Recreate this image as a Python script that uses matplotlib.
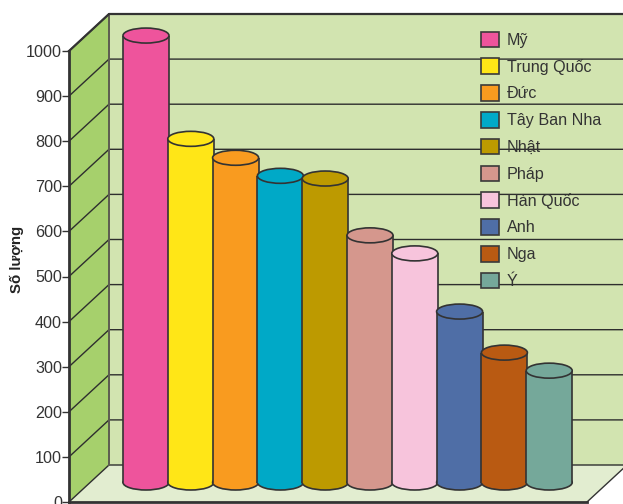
#!/usr/bin/env python3
"""Pseudo-3D cylinder bars: Số lượng by country."""
import numpy as np
import matplotlib
matplotlib.use("Agg")
import matplotlib.pyplot as plt
from matplotlib.patches import Ellipse, Patch

plt.rcParams["font.family"] = ["Liberation Sans", "DejaVu Sans"]

countries = ["Mỹ", "Trung Quốc", "Đức", "Tây Ban Nha", "Nhật",
             "Pháp", "Hàn Quốc", "Anh", "Nga", "Ý"]
values = [991, 762, 720, 680, 674, 548, 508, 379, 288, 248]
colors = ["#ee549c", "#ffe617", "#f99b1f", "#00a9c7", "#bd9a00",
          "#d5978d", "#f7c4dc", "#4f6ea6", "#b95a12", "#75a89a"]
y_ticks = list(range(0, 1001, 100))

INK = "#333333"
WALL_BACK = "#d2e4b0"
WALL_SIDE = "#a6d06c"
FLOOR = "#e2edd0"

# pixel layout of the front plane
W, H = 623, 504
X0, X1, Y0, Y1000 = 69, 587, 502, 51
X_FIRST, X_STEP = 146, 44.8
Y_SCALE = (Y0 - Y1000) / 1000  # px per unit

DX = 40 / X_STEP  # wall depth in data units
DY = 37 / Y_SCALE
BASE = 19.5 / Y_SCALE  # cylinders stand mid-floor
BAR_W = 46 / X_STEP
CAP_H = 15 / Y_SCALE

fig = plt.figure(figsize=(W / 100, H / 100), dpi=100)
ax = fig.add_axes((X0 / W, (H - Y0) / H, (X1 - X0) / W, (Y0 - Y1000) / H))
ax.set_xlim((X0 - X_FIRST) / X_STEP, (X1 - X_FIRST) / X_STEP)
ax.set_ylim(0, 1000)
ax.patch.set_alpha(0)
xl, xr = ax.get_xlim()

# walls and floor
ax.fill([xl + DX, xr + DX, xr + DX, xl + DX], [DY, DY, 1000 + DY, 1000 + DY],
        color=WALL_BACK, lw=0, clip_on=False, zorder=0.1)
ax.fill([xl, xl + DX, xl + DX, xl], [0, DY, 1000 + DY, 1000],
        color=WALL_SIDE, lw=0, clip_on=False, zorder=0.2)
ax.fill([xl, xr, xr + DX, xl + DX], [0, 0, DY, DY],
        color=FLOOR, lw=0, clip_on=False, zorder=0.2)

for v in y_ticks:
    ax.plot([xl, xl + DX, xr + DX], [v, v + DY, v + DY], color="#2e2e2e", lw=1.0,
            clip_on=False, zorder=0.5)
ax.plot([xl + DX, xl + DX], [DY, 1000 + DY], color="#5c5c50", lw=1.4, clip_on=False, zorder=0.6)
ax.plot([xl, xl + DX, xr + DX], [1000, 1000 + DY, 1000 + DY], color=INK, lw=1.6,
        clip_on=False, zorder=0.7)
ax.plot([xr, xr + DX], [0, DY], color=INK, lw=1.0, clip_on=False, zorder=0.7)

# cylinders, each one in front of the previous
for i, (v, c) in enumerate(zip(values, colors)):
    z = 2 + i
    ax.add_patch(Ellipse((i, BASE), BAR_W, CAP_H, fc=c, ec=INK, lw=1.2, clip_on=False, zorder=z))
    ax.bar(i, v, width=BAR_W, bottom=BASE, color=c, lw=0, zorder=z + 0.1, clip_on=False)
    ax.vlines([i - BAR_W / 2, i + BAR_W / 2], BASE, BASE + v, color=INK, lw=1.2, zorder=z + 0.2,
              clip_on=False)
    ax.add_patch(Ellipse((i, BASE + v), BAR_W, CAP_H, fc=c, ec=INK, lw=1.2, clip_on=False,
                         zorder=z + 0.3))

for side in ("top", "right"):
    ax.spines[side].set_visible(False)
ax.spines["left"].set_linewidth(2.0)
ax.spines["left"].set_color(INK)
ax.spines["bottom"].set_linewidth(2.0)
ax.spines["bottom"].set_color(INK)
ax.set_xticks([])
ax.set_yticks(y_ticks)
ax.tick_params(axis="y", length=5, width=1.0, color=INK, labelcolor=INK, labelsize=11.6, pad=0)
ax.set_ylabel("Số lượng", fontsize=10.8, fontweight="bold", color="#222222")
ax.yaxis.set_label_coords(-0.086, 0.537)

handles = [Patch(fc=c, ec="#3a3a3a", lw=1.2) for c in colors]
leg = ax.legend(handles, countries, loc="upper left", bbox_to_anchor=((481 - X0) / (X1 - X0), 1.043),
                frameon=False, fontsize=11.6, handlelength=1.12, handleheight=1.12,
                handletextpad=0.5, labelspacing=0.65, borderpad=0, borderaxespad=0,
                labelcolor=INK)
leg.set_zorder(50)

fig.savefig("out.png", dpi=100)
